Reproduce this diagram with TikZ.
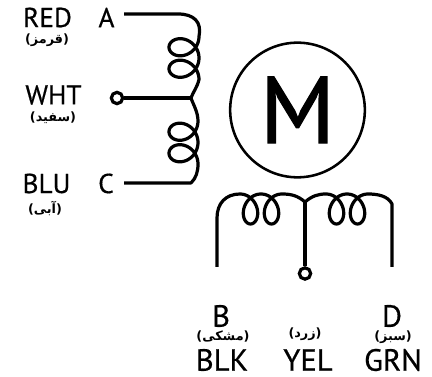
\documentclass[tikz,border=0pt]{standalone}
\usepackage{fontspec}
\setmainfont[FakeBold=0.5]{PT Sans}
\newfontfamily\heavyfont[FakeBold=1.3]{PT Sans}
\newfontfamily\arabicfont[Script=Arabic]{DejaVu Sans}
\TeXXeTstate=1
\tikzset{
  wire/.style={line width=2.4pt, line join=round},
  pin/.style={draw, circle, line width=2.4pt, minimum size=8.5pt, inner sep=0pt},
  big/.style={font=\fontsize{20.5}{20}\selectfont, inner sep=0pt},
  huge/.style={font=\fontsize{23}{23}\selectfont, inner sep=0pt},
  fa/.style={font=\fontsize{9.6}{10}\arabicfont\bfseries, inner sep=0pt}
}
\begin{document}
\begin{tikzpicture}[x=0.75pt, y=-0.75pt]
\useasboundingbox (0,0) rectangle (432,377);

\node[big] (red) at (47.5,17.5) {RED};
\node[fa] (redfa) at (47,40) {\beginR(قرمز)\endR};
\node[big] (wht) at (53.5,95) {WHT};
\node[fa] (whtfa) at (53,118) {\beginR(سفید)\endR};
\node[big] (blu) at (46.5,183.5) {BLU};
\node[fa] (blufa) at (45,208) {\beginR(آبی)\endR};
\node[big] (a) at (106.5,17.5) {A};
\node[big] (c) at (106,183.5) {C};

\node[huge] (b) at (221,316) {B};
\node[huge] (d) at (392,316) {D};
\node[fa] (blkfa) at (223,336) {\beginR(مشکی)\endR};
\node[fa] (yelfa) at (305,334) {\beginR(زرد)\endR};
\node[fa] (grnfa) at (393,337) {\beginR(سبز)\endR};
\node[huge] (blk) at (222,360) {BLK};
\node[huge] (yel) at (308,360) {YEL};
\node[huge] (grn) at (393,360) {GRN};

\node[draw, circle, line width=1.9pt, minimum size=101pt, inner sep=0pt,
      font=\fontsize{71}{71}\heavyfont] (m) at (297.5,110) {M};

\node[pin] (wp) at (117,98) {};
\node[pin] (yp) at (305,273.5) {};
\coordinate (as) at (124,14);
\coordinate (cs) at (124,183);
\coordinate (bs) at (217,267);
\coordinate (ds) at (392,267);
\coordinate (wj) at (191,98);
\coordinate (cj) at (191,183);
\coordinate (yj) at (305,202);

\draw[wire] (as) -- (178,14) .. controls (194,14) and (202,22) .. (199,36.5)
  -- plot[domain=0:720, samples=97, smooth] ({184+15*cos(\x)},{36.5+\x*21.5/360+13.5*sin(\x)})
  .. controls (197,88) and (193,92) .. (wj)
  .. controls (193,104) and (198,112) .. (198,121)
  -- plot[domain=0:720, samples=97, smooth] ({183.5+14.5*cos(\x)},{121+\x*21.5/360+13.5*sin(\x)})
  .. controls (198,172) and (196,178) .. (cj) -- (cs);
\draw[wire] (wp) -- (wj);

\draw[wire] (bs) -- (217,218) .. controls (217,203) and (226,194) .. (240,194)
  -- plot[domain=0:720, samples=97, smooth] ({240+\x*21/360+12*sin(\x)},{209-15*cos(\x)})
  .. controls (292,194) and (298,196) .. (yj)
  .. controls (312,196) and (318,194) .. (326,194)
  -- plot[domain=0:720, samples=97, smooth] ({326+\x*21/360+12*sin(\x)},{209-15*cos(\x)})
  .. controls (378,194) and (388,196) .. (392,204) -- (ds);
\draw[wire] (yp) -- (yj);
\end{tikzpicture}
\end{document}
